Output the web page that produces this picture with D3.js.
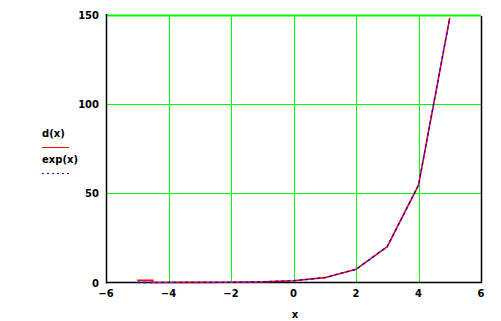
<!DOCTYPE html>
<html><head><meta charset="utf-8">
<script src="https://cdn.jsdelivr.net/npm/d3@7/dist/d3.min.js"></script>
<style>body{margin:0;background:#fff}svg{display:block}text{font-family:"DejaVu Sans",sans-serif;font-weight:bold;font-size:10px;fill:#000}</style>
</head><body><svg id="c" width="501" height="321"></svg>
<script>
const xTicks = [-6, -4, -2, 0, 2, 4, 6];
const yTicks = [0, 50, 100, 150];
const expX = [-5, -4, -3, -2, -1, 0, 1, 2, 3, 4, 5];
const expY = [0.0067, 0.0183, 0.0498, 0.135, 0.368, 1, 2.718, 7.389, 20.09, 54.6, 148.4];
const dX = [-5, -4.5, -4.5, -4, -3, -2, -1, 0, 1, 2, 3, 4, 5];
const dY = [1.2, 1.2, 0.015, 0.0183, 0.0498, 0.135, 0.368, 1, 2.718, 7.389, 20.09, 54.6, 148.4];
const seriesNames = ["d(x)", "exp(x)"];
const xTitle = "x";

const svg = d3.select("#c");
const L = 106, R = 481, T = 15, B = 282.5;
const x = d3.scaleLinear().domain([-6, 6]).range([L, R]);
const y = d3.scaleLinear().domain([0, 150]).range([B, T]);

// grid
svg.selectAll(".gx").data(xTicks.filter(t => t > -6 && t < 6)).enter().append("line")
  .attr("x1", d => Math.round(x(d)) + 0.5).attr("x2", d => Math.round(x(d)) + 0.5)
  .attr("y1", T).attr("y2", B).attr("stroke", "#00ff00").attr("stroke-width", 1);
svg.selectAll(".gy").data(yTicks.filter(t => t > 0)).enter().append("line")
  .attr("x1", L).attr("x2", R)
  .attr("y1", d => Math.round(y(d)) + 0.5).attr("y2", d => Math.round(y(d)) + 0.5)
  .attr("stroke", "#00ff00").attr("stroke-width", d => d === 150 ? 2 : 1);

// axes frame
svg.append("line").attr("x1", L + 0.5).attr("x2", L + 0.5).attr("y1", T - 1).attr("y2", B + 1).attr("stroke", "#000").attr("stroke-width", 1.5);
svg.append("line").attr("x1", L).attr("x2", R + 1).attr("y1", B).attr("y2", B).attr("stroke", "#000").attr("stroke-width", 1.5);
svg.append("line").attr("x1", R + 0.5).attr("x2", R + 0.5).attr("y1", T + 1).attr("y2", B).attr("stroke", "#000").attr("stroke-width", 1.5);

// tick labels
svg.selectAll(".tx").data(xTicks).enter().append("text")
  .attr("x", d => x(d)).attr("y", 297).attr("text-anchor", "middle").text(d => d < 0 ? "\u2212" + Math.abs(d) : d);
svg.selectAll(".ty").data(yTicks).enter().append("text")
  .attr("x", 99).attr("y", d => y(d) + 4).attr("text-anchor", "end").text(d => d);
svg.append("text").attr("x", 295).attr("y", 318).attr("text-anchor", "middle").text(xTitle);

// lines
const line = d3.line().x(d => x(d[0])).y(d => y(d[1]));
svg.append("path").datum(dX.map((v, i) => [v, dY[i]])).attr("d", line)
  .attr("fill", "none").attr("stroke", "#ff0000").attr("stroke-width", 1.6);
svg.append("path").datum(expX.map((v, i) => [v, expY[i]])).attr("d", line)
  .attr("fill", "none").attr("stroke", "#0000ff").attr("stroke-width", 1.3).attr("stroke-dasharray", "3,3");

// legend
svg.append("text").attr("x", 42).attr("y", 137).text(seriesNames[0]);
svg.append("line").attr("x1", 42).attr("x2", 69).attr("y1", 147.5).attr("y2", 147.5).attr("stroke", "#ff0000").attr("stroke-width", 1);
svg.append("text").attr("x", 42).attr("y", 163).text(seriesNames[1]);
svg.append("line").attr("x1", 42).attr("x2", 69).attr("y1", 173.5).attr("y2", 173.5).attr("stroke", "#0000ff").attr("stroke-width", 1).attr("stroke-dasharray", "2,3");
</script></body></html>
